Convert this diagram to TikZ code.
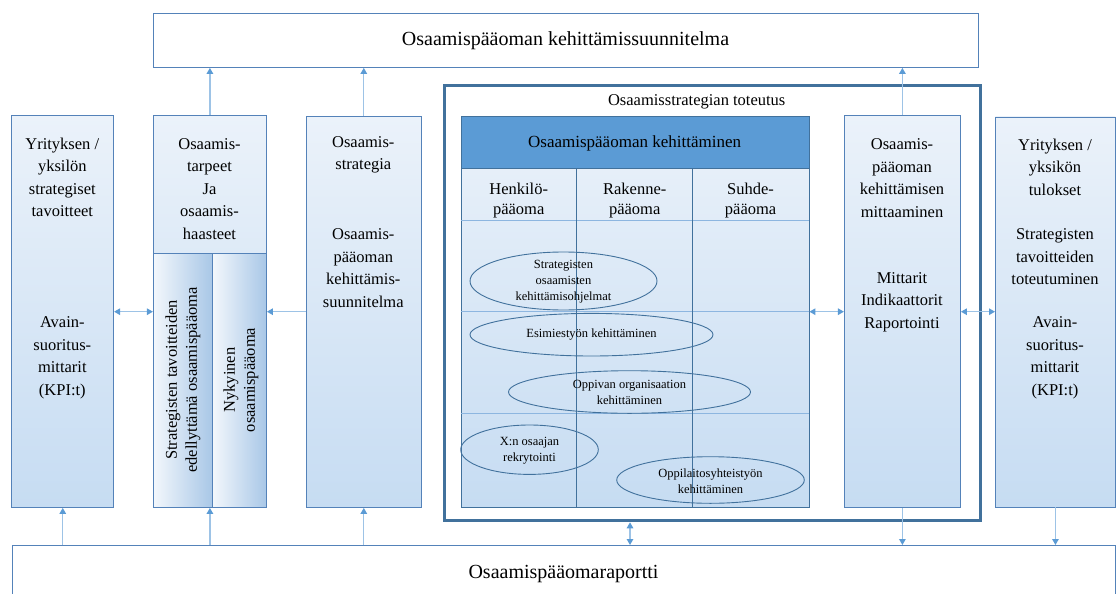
\documentclass[tikz,border=0pt]{standalone}
\usepackage{fontspec}
\setmainfont{Liberation Serif}
\usetikzlibrary{arrows.meta,shapes.geometric}
\definecolor{boxline}{RGB}{84,130,185}
\definecolor{framecol}{RGB}{65,113,156}
\definecolor{linkcol}{RGB}{157,195,230}
\definecolor{tipcol}{RGB}{91,155,213}
\definecolor{headblue}{RGB}{91,155,213}
\definecolor{rowline}{RGB}{141,182,224}
\definecolor{fillTop}{RGB}{235,242,250}
\definecolor{fillMid}{RGB}{178,207,236}
\definecolor{fillBot}{RGB}{198,220,242}
\begin{document}
\begin{tikzpicture}[x=1pt,y=-1pt,
  box/.style={draw=boxline,line width=0.9pt,inner sep=0pt,anchor=north west,
    top color=fillTop,middle color=fillMid,bottom color=fillBot},
  sidebox/.style={draw=boxline,line width=0.9pt,inner sep=0pt,anchor=north west,
    left color=fillTop!60!white,right color=fillMid!90!boxline},
  plainbox/.style={draw=boxline,line width=0.9pt,fill=white,inner sep=0pt,anchor=north west},
  txt/.style={align=center,inner sep=0pt,font=\fontsize{16.5}{22.5}\selectfont},
  coltxt/.style={align=center,inner sep=0pt,font=\fontsize{16.5}{20}\selectfont},
  small/.style={align=center,inner sep=0pt,font=\fontsize{12.5}{16}\selectfont},
  oval/.style={draw=framecol,line width=0.9pt,ellipse,inner sep=0pt},
  link/.style={draw=linkcol,line width=1.3pt,-{Triangle[length=6pt,width=6.5pt,color=tipcol]}},
  both/.style={draw=linkcol,line width=1.3pt,
    {Triangle[length=6pt,width=6.5pt,color=tipcol]}-{Triangle[length=6pt,width=6.5pt,color=tipcol]}}]
\useasboundingbox (0,0) rectangle (1116,594);

% top and bottom bars
\node[plainbox,minimum width=825pt,minimum height=54pt] (suunnitelma) at (153,13) {};
\node[inner sep=0pt,font=\fontsize{20}{24}\selectfont] (suunnitelmaT) at (565.5,41) {Osaamispääoman kehittämissuunnitelma};
\node[plainbox,minimum width=1103.5pt,minimum height=60pt] (raportti) at (11.5,545) {};
\node[inner sep=0pt,font=\fontsize{20}{24}\selectfont] (raporttiT) at (563.5,574) {Osaamispääomaraportti};

% frame of the strategy implementation
\node[draw=framecol,line width=3pt,fill=white,inner sep=0pt,anchor=north west,
  minimum width=535.6pt,minimum height=435.3pt] (toteutus) at (442.9,84) {};
\node[txt] (toteutusT) at (696.7,102) {Osaamisstrategian toteutus};

% side boxes
\node[box,minimum width=101.8pt,minimum height=392pt] (yritys) at (11.4,115) {};
\node[txt] (yritysA) at (62.3,177.5) {Yrityksen /\\yksilön\\strategiset\\tavoitteet};
\node[txt] (yritysB) at (62.3,358) {Avain-\\suoritus-\\mittarit\\(KPI:t)};

\node[box,minimum width=113.1pt,minimum height=392pt] (tarpeet) at (152.9,115) {};
\node[sidebox,minimum width=58.9pt,minimum height=254.3pt] (edell) at (152.9,252.7) {};
\node[sidebox,minimum width=54.2pt,minimum height=254.3pt] (nyky) at (211.8,252.7) {};
\node[txt] (tarpeetT) at (209.5,189) {Osaamis-\\tarpeet\\Ja\\osaamis-\\haasteet};
\node[coltxt,rotate=90] (edellT) at (183,380) {Strategisten tavoitteiden\\edellyttämä osaamispääoma};
\node[coltxt,rotate=90] (nykyT) at (241,380) {Nykyinen\\osaamispääoma};

\node[box,minimum width=114.7pt,minimum height=391.3pt] (strategia) at (306,115.7) {};
\node[txt] (strategiaA) at (363.3,155) {Osaamis-\\strategia};
\node[txt] (strategiaB) at (363.3,268) {Osaamis-\\pääoman\\kehittämis-\\suunnitelma};

\node[box,minimum width=116.1pt,minimum height=392pt] (mittaus) at (843.9,115) {};
\node[txt] (mittausA) at (902,178) {Osaamis-\\pääoman\\kehittämisen\\mittaaminen};
\node[txt] (mittausB) at (902,302) {Mittarit\\Indikaattorit\\Raportointi};

\node[box,minimum width=120pt,minimum height=390pt] (tulokset) at (995,116.5) {};
\node[txt] (tuloksetA) at (1055,167) {Yrityksen /\\yksikön\\tulokset};
\node[txt] (tuloksetB) at (1055,257) {Strategisten\\tavoitteiden\\toteutuminen};
\node[txt] (tuloksetC) at (1055,358) {Avain-\\suoritus-\\mittarit\\(KPI:t)};

% capital development grid
\node[box,draw=framecol,minimum width=347.8pt,minimum height=391pt] (kehitys) at (460.7,115.7) {};
\node[draw=framecol,line width=0.9pt,fill=headblue,inner sep=0pt,anchor=north west,
  minimum width=347.8pt,minimum height=52.6pt] (otsikko) at (460.7,115.7) {};
\node[inner sep=0pt,font=\fontsize{17}{20}\selectfont] (otsikkoT) at (634.6,143) {Osaamispääoman kehittäminen};
\draw[rowline,line width=0.8pt] (460.7,220) -- (808.5,220);
\draw[rowline,line width=0.8pt] (460.7,311.7) -- (808.5,311.7);
\draw[rowline,line width=0.8pt] (460.7,413.5) -- (808.5,413.5);
\draw[framecol,line width=0.9pt] (576.7,168.3) -- (576.7,506.7);
\draw[framecol,line width=0.9pt] (692.7,168.3) -- (692.7,506.7);
\node[coltxt] (henkilo) at (518.7,201) {Henkilö-\\pääoma};
\node[coltxt] (rakenne) at (634.7,201) {Rakenne-\\pääoma};
\node[coltxt] (suhde) at (750.6,201) {Suhde-\\pääoma};

\node[oval,minimum width=187pt,minimum height=58pt] (ohjelmat) at (563.5,281) {};
\node[small] (ohjelmatT) at (563.5,282) {Strategisten\\osaamisten\\kehittämisohjelmat};
\node[oval,minimum width=243pt,minimum height=42.6pt] (esimies) at (591.5,334.7) {};
\node[small] (esimiesT) at (591.5,335) {Esimiestyön kehittäminen};
\node[oval,minimum width=242pt,minimum height=42.6pt] (oppiva) at (629.5,392) {};
\node[small] (oppivaT) at (629.5,392.5) {Oppivan organisaation\\kehittäminen};
\node[oval,minimum width=137.6pt,minimum height=49.4pt] (rekry) at (529.5,449.7) {};
\node[small] (rekryT) at (529.5,450.5) {X:n osaajan\\rekrytointi};
\node[oval,minimum width=187.6pt,minimum height=46.6pt] (oppilaitos) at (710.5,480) {};
\node[small] (oppilaitosT) at (710.5,481) {Oppilaitosyhteistyön\\kehittäminen};

% connectors
\coordinate (row) at (0,311.7);
\coordinate (gap) at (630,0);
\draw[link] (tarpeet.north) -- (tarpeet.north |- suunnitelma.south);
\draw[link] (strategia.north) -- (strategia.north |- suunnitelma.south);
\draw[link] (mittaus.north) -- (mittaus.north |- suunnitelma.south);
\draw[both] (yritys.east |- row) -- (tarpeet.west |- row);
\draw[link] (strategia.west |- row) -- (nyky.east |- row);
\draw[both] (kehitys.east |- row) -- (mittaus.west |- row);
\draw[both] (mittaus.east |- row) -- (tulokset.west |- row);
\draw[link] (yritys.south |- raportti.north) -- (yritys.south);
\draw[link] (tarpeet.south |- raportti.north) -- (tarpeet.south);
\draw[link] (strategia.south |- raportti.north) -- (strategia.south);
\draw[both] (gap |- toteutus.south) -- (gap |- raportti.north);
\draw[link] (mittaus.south) -- (mittaus.south |- raportti.north);
\draw[link] (tulokset.south) -- (tulokset.south |- raportti.north);
\end{tikzpicture}
\end{document}
